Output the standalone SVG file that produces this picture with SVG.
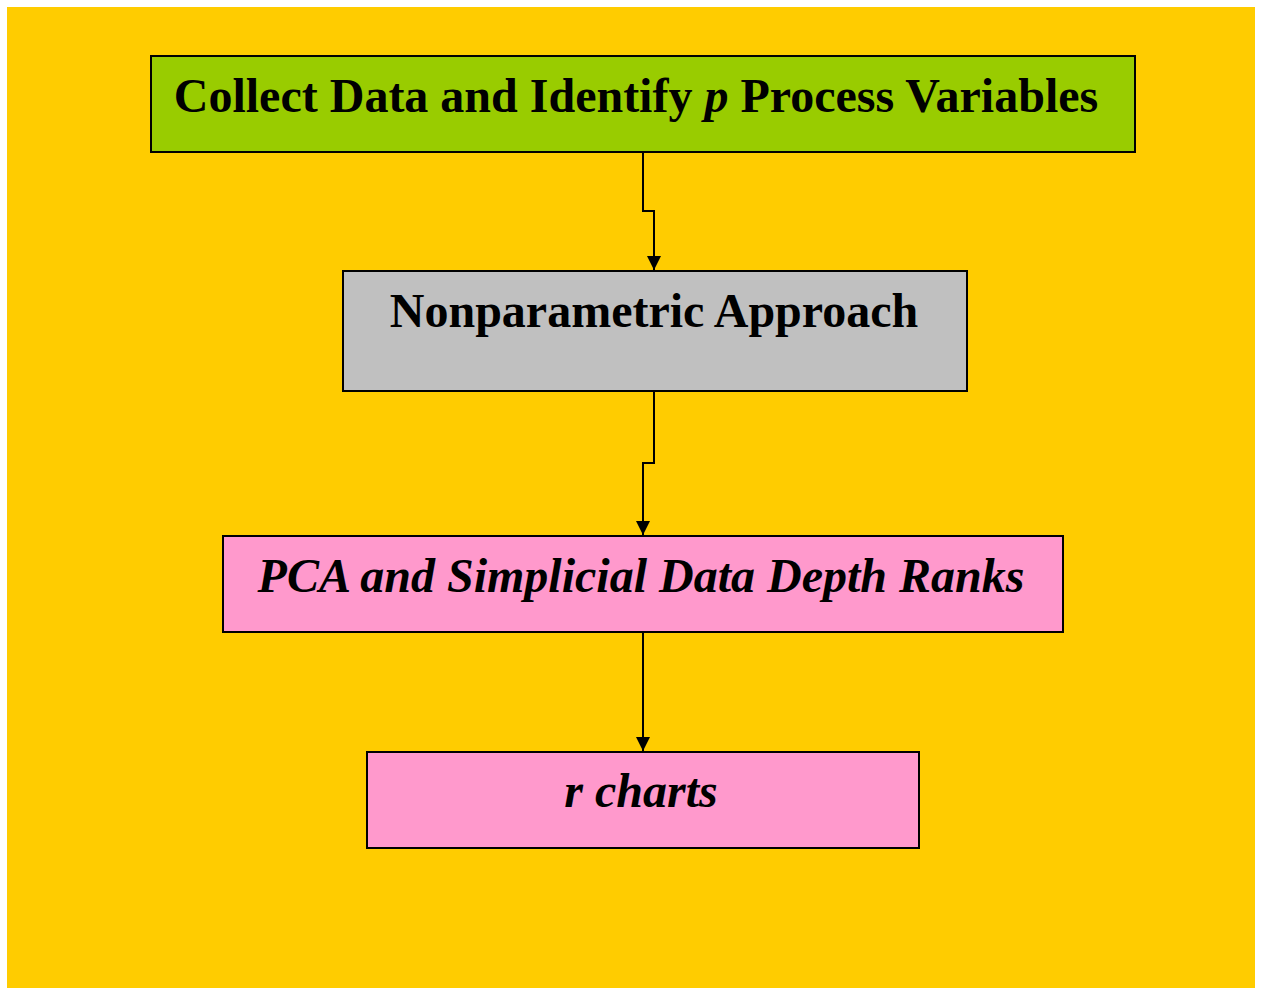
<svg xmlns="http://www.w3.org/2000/svg" width="1261" height="988" viewBox="0 0 1261 988">
<style>
.box{stroke:#000;stroke-width:2}
.t{font-family:"Liberation Serif","Times New Roman",serif;font-weight:bold;font-size:48px;fill:#000}
.i{font-style:italic}
.c{fill:none;stroke:#000;stroke-width:2}
</style>
<defs>
<marker id="ah" markerWidth="14" markerHeight="14" refX="14" refY="7" orient="auto" markerUnits="userSpaceOnUse">
<path d="M0,0 L14,7 L0,14 Z" fill="#000"/>
</marker>
</defs>
<rect x="0" y="0" width="1261" height="988" fill="#fff"/>
<rect x="7" y="7" width="1248" height="981" fill="#FFCC00"/>
<g id="connectors">
<path class="c" d="M643,152 V211 H654 V270" marker-end="url(#ah)"/>
<path class="c" d="M654,391 V463 H643 V535" marker-end="url(#ah)"/>
<path class="c" d="M643,632 V751" marker-end="url(#ah)"/>
</g>
<g id="n1">
<rect class="box" x="151" y="56" width="984" height="96" fill="#99CC00"/>
<text class="t" x="636" y="112" text-anchor="middle">Collect Data and Identify <tspan class="i">p</tspan> Process Variables</text>
</g>
<g id="n2">
<rect class="box" x="343" y="271" width="624" height="120" fill="#C0C0C0"/>
<text class="t" x="654" y="327" text-anchor="middle">Nonparametric Approach</text>
</g>
<g id="n3">
<rect class="box" x="223" y="536" width="840" height="96" fill="#FF99CC"/>
<text class="t i" x="641" y="592" text-anchor="middle">PCA and Simplicial Data Depth Ranks</text>
</g>
<g id="n4">
<rect class="box" x="367" y="752" width="552" height="96" fill="#FF99CC"/>
<text class="t i" x="641" y="807" text-anchor="middle">r charts</text>
</g>
</svg>
